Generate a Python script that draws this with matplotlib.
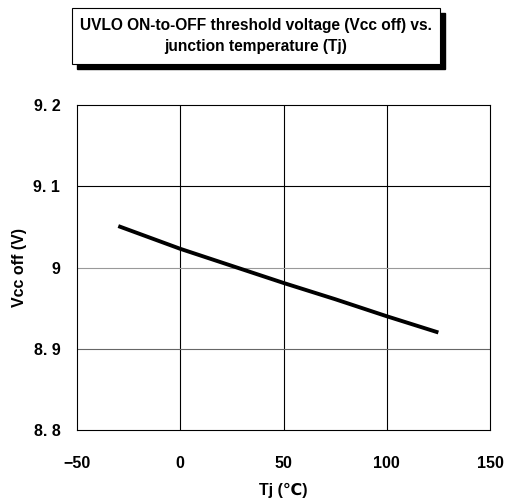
import matplotlib
matplotlib.use("Agg")
import matplotlib.pyplot as plt
from matplotlib.patches import Rectangle

tj = [-30, 0, 25, 50, 75, 100, 125]
vcc_off = [9.051, 9.023, 9.002, 8.981, 8.961, 8.940, 8.920]
xticks = [-50, 0, 50, 100, 150]
xtick_labels = ["−50", "0", "50", "100", "150"]
yticks = [8.8, 8.9, 9.0, 9.1, 9.2]
ytick_labels = ["8. 8", "8. 9", "9", "9. 1", "9. 2"]
title = "UVLO ON-to-OFF threshold voltage (Vcc off) vs.\njunction temperature (Tj)"

plt.rcParams['font.family'] = ['Liberation Sans', 'DejaVu Sans']
fig = plt.figure(figsize=(5.13, 5.01), dpi=100)
W, H = 513, 501
l, r, t, b = 77, 490, 105, 430
ax = fig.add_axes([l / W, 1 - b / H, (r - l) / W, (b - t) / H])

ax.plot(tj, vcc_off, color='black', lw=2.8, solid_capstyle='butt')
ax.set_xlim(-50, 150)
ax.set_ylim(8.8, 9.2)
ax.set_xticks(xticks)
ax.set_xticklabels(xtick_labels, fontsize=11.5, fontweight='bold')
ax.set_yticks(yticks)
ax.set_yticklabels(ytick_labels, fontsize=11.5, fontweight='bold')
ax.tick_params(axis='x', length=0, pad=19)
ax.tick_params(axis='y', length=0, pad=12)
for x in [0, 50, 100]:
    ax.axvline(x, color='black', lw=0.8, zorder=0)
ax.axhline(9.1, color='black', lw=0.8, zorder=0)
ax.axhline(9.0, color='#999999', lw=0.8, zorder=0)
ax.axhline(8.9, color='#666666', lw=0.8, zorder=0)
for s in ax.spines.values():
    s.set_linewidth(0.8)
ax.set_xlabel("Tj (℃)", fontsize=11.5, fontweight='bold', labelpad=8)
ax.set_ylabel("Vcc off (V)", fontsize=11.5, fontweight='bold', labelpad=5)

# title box with shadow
bx0, bx1, by0, by1 = 72, 440, 8, 64
fig.patches.append(Rectangle(((bx0 + 5) / W, 1 - (by1 + 5) / H), (bx1 - bx0) / W, (by1 - by0) / H,
                             transform=fig.transFigure, facecolor='black', edgecolor='black', zorder=1))
fig.patches.append(Rectangle((bx0 / W, 1 - by1 / H), (bx1 - bx0) / W, (by1 - by0) / H,
                             transform=fig.transFigure, facecolor='white', edgecolor='black', lw=0.8, zorder=2))
fig.text((bx0 + bx1) / 2 / W, 1 - (by0 + by1) / 2 / H, title, ha='center', va='center',
         fontsize=11.2, fontweight='bold', linespacing=1.5, zorder=3)

fig.savefig("out.png", dpi=100)
